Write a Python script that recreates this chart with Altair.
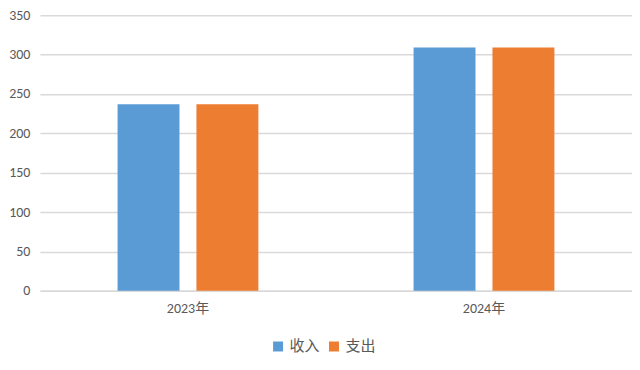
import altair as alt
import pandas as pd

years = ["2023年", "2024年"]
series = ["收入", "支出"]
income = [237, 309]
expense = [237, 309]

rows = []
for i, y in enumerate(years):
    rows.append({"year": y, "series": series[0], "value": income[i]})
    rows.append({"year": y, "series": series[1], "value": expense[i]})
df = pd.DataFrame(rows)

FONT = "Calibri, Carlito, 'Noto Sans CJK SC', 'Liberation Sans', sans-serif"
TXT = "#595959"

chart = alt.Chart(df).mark_bar().encode(
    x=alt.X("year:N", sort=years, title=None,
            scale=alt.Scale(paddingInner=0, paddingOuter=0),
            axis=alt.Axis(labelAngle=0, ticks=False, domain=True, domainColor="#d9d9d9",
                          domainWidth=1.5, labelColor=TXT, labelFontSize=14, labelFont=FONT,
                          labelPadding=11, grid=False)),
    xOffset=alt.XOffset("series:N", sort=series,
                        scale=alt.Scale(paddingInner=0.215, paddingOuter=0.984)),
    y=alt.Y("value:Q", title=None,
            scale=alt.Scale(domain=[0, 350]),
            axis=alt.Axis(values=[0, 50, 100, 150, 200, 250, 300, 350], ticks=False, domain=False,
                          gridColor="#d9d9d9", gridWidth=1.5, labelColor=TXT, labelFontSize=14,
                          labelFont=FONT, labelPadding=10)),
    color=alt.Color("series:N", sort=series,
                    scale=alt.Scale(domain=series, range=["#5B9BD5", "#ED7D31"]),
                    legend=alt.Legend(title=None, orient="none", legendX=231, legendY=324,
                                      direction="horizontal", symbolType="square",
                                      symbolSize=100, symbolStrokeWidth=0, labelFontSize=15,
                                      labelFont=FONT, labelColor=TXT, columnPadding=6,
                                      labelOffset=4)),
).properties(
    width=593, height=276,
    autosize=alt.AutoSizeParams(type="none"),
    padding={"left": 32, "top": 7, "right": 0, "bottom": 70},
).configure_view(stroke=None)

chart.save("out.html", embed_options={"renderer": "svg", "actions": False})
